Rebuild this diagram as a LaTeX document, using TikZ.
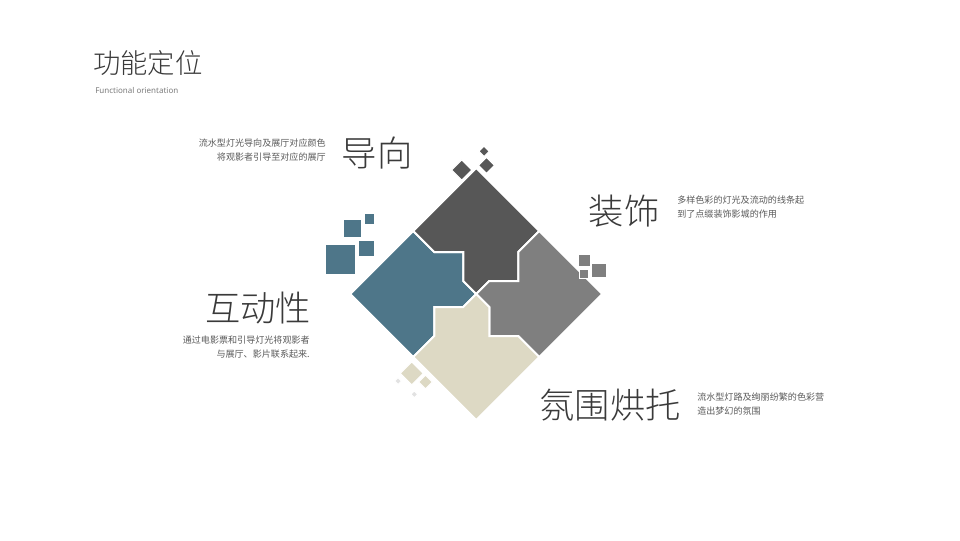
\documentclass[tikz,border=0pt]{standalone}
\usepackage{fontspec}
\setmainfont{Noto Sans CJK SC}
\newfontfamily\headfont{Noto Sans CJK SC Light}
\newfontfamily\latinsans{Noto Sans}
\definecolor{pdark}{HTML}{575757}
\definecolor{pblue}{HTML}{4E7689}
\definecolor{pgray}{HTML}{7F7F7F}
\definecolor{pbeige}{HTML}{DDD9C4}
\definecolor{pfaint}{HTML}{E2E2E2}
\definecolor{headc}{HTML}{3A3A3A}
\definecolor{descc}{HTML}{5A5A5A}
\tikzset{
  piece/.style={draw=white, line width=1.5pt, line join=miter},
  deco/.style={draw=white, line width=0.8pt},
  head/.style={inner sep=0pt, text=headc, font=\headfont\fontsize{26.5pt}{30pt}\selectfont},
  desc/.style={inner sep=0pt, text=descc, font=\fontsize{6.8pt}{10.5pt}\selectfont},
}
\newcommand\dsq[4]{\fill[#1,deco] (#2-#4,#3) -- (#2,#3-#4) -- (#2+#4,#3) -- (#2,#3+#4) -- cycle;}
\newcommand\asq[5]{\fill[#1,deco] (#2,#3) rectangle (#4,#5);}
\begin{document}
\begin{tikzpicture}[x=0.75pt,y=-0.75pt]
\useasboundingbox (0,0) rectangle (960,540);
\fill[white] (0,0) rectangle (960,540);
% title
\node[inner sep=0pt, anchor=west, text=headc, font=\headfont\fontsize{20.5pt}{24pt}\selectfont] (title) at (93,63) {功能定位};
\node[inner sep=0pt, anchor=west, text=descc!80, font=\latinsans\fontsize{6pt}{7pt}\selectfont] (subtitle) at (95,90) {Functional orientation};
% pinwheel pieces
\begin{scope}[shift={(476.3,294)}]
\fill[pblue,piece] (-126,0) -- (-63,-63) -- (-42,-42) -- (-13,-42) -- (-13,-13) -- (0,0) -- (-13,13) -- (-42,13) -- (-42,42) -- (-63,63) -- cycle;
\fill[pdark,piece] (0,-126) -- (63,-63) -- (42,-42) -- (42,-13) -- (13,-13) -- (0,0) -- (-13,-13) -- (-13,-42) -- (-42,-42) -- (-63,-63) -- cycle;
\fill[pgray,piece] (126,0) -- (63,63) -- (42,42) -- (13,42) -- (13,13) -- (0,0) -- (13,-13) -- (42,-13) -- (42,-42) -- (63,-63) -- cycle;
\fill[pbeige,piece] (0,126) -- (-63,63) -- (-42,42) -- (-42,13) -- (-13,13) -- (0,0) -- (13,13) -- (13,42) -- (42,42) -- (63,63) -- cycle;
\end{scope}
% decorations: dark diamonds
\dsq{pdark}{461.7}{170}{10.2}
\dsq{pdark}{484}{151.3}{5.2}
\dsq{pdark}{486.5}{165.3}{8}
% blue squares
\asq{pblue}{364}{213.5}{374.7}{224.2}
\asq{pblue}{343}{219}{362}{237.7}
\asq{pblue}{358}{240.7}{374.7}{257}
\asq{pblue}{325.6}{244}{356}{274.7}
% gray squares
\asq{pgray}{578}{254.6}{590.4}{266.8}
\asq{pgray}{591.4}{263}{607}{277.7}
\asq{pgray}{579.6}{269.6}{588.4}{278.7}
% beige diamonds
\dsq{pbeige}{411.7}{373.3}{11.5}
\dsq{pbeige}{425.5}{382}{6.8}
\dsq{pfaint}{398}{381}{3.5}
\dsq{pfaint}{414.3}{394.3}{3.5}
% headings
\node[head] (h1) at (377,153) {导向};
\node[head] (h2) at (624,211) {装饰};
\node[head] (h3) at (258,308) {互动性};
\node[head] (h4) at (610,405) {氛围烘托};
% descriptions
\node[desc, align=right, anchor=east] (d1) at (326,150) {流水型灯光导向及展厅对应颜色\\将观影者引导至对应的展厅};
\node[desc, align=left, anchor=west] (d2) at (677,207) {多样色彩的灯光及流动的线条起\\到了点缀装饰影城的作用};
\node[desc, align=right, anchor=east] (d3) at (310,347) {通过电影票和引导灯光将观影者\\与展厅、影片联系起来.};
\node[desc, align=left, anchor=west] (d4) at (697,404) {流水型灯路及绚丽纷繁的色彩营\\造出梦幻的氛围};
\end{tikzpicture}
\end{document}
